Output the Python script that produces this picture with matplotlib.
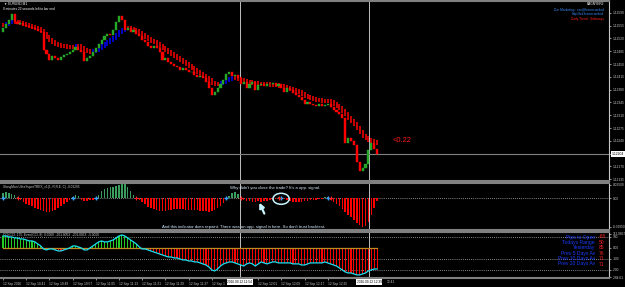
import matplotlib.pyplot as plt
from matplotlib.patches import Ellipse
import numpy as np

plt.rcParams['font.family'] = ['Liberation Sans', 'DejaVu Sans']

# ---- data (EURUSD M1, 12 Sep 2016) ----
closes = [1.12548, 1.12559, 1.12570, 1.12587, 1.12565, 1.12559, 1.12562, 1.12557, 1.12554, 1.12551,
          1.12548, 1.12546, 1.12540, 1.12537, 1.12488, 1.12477, 1.12461, 1.12472, 1.12466, 1.12461,
          1.12469, 1.12475, 1.12477, 1.12483, 1.12488, 1.12496, 1.12488, 1.12483, 1.12458, 1.12466,
          1.12472, 1.12483, 1.12494, 1.12505, 1.12516, 1.12527, 1.12532, 1.12529, 1.12543, 1.12565,
          1.12581, 1.12570, 1.12543, 1.12548, 1.12537, 1.12543, 1.12532, 1.12527, 1.12516, 1.12510,
          1.12499, 1.12494, 1.12499, 1.12494, 1.12483, 1.12461, 1.12466, 1.12455, 1.12450, 1.12445,
          1.12442, 1.12434, 1.12439, 1.12434, 1.12428, 1.12428, 1.12420, 1.12414, 1.12417, 1.12412,
          1.12401, 1.12384, 1.12365, 1.12373, 1.12384, 1.12395, 1.12406, 1.12423, 1.12428, 1.12417,
          1.12420, 1.12412, 1.12395, 1.12401, 1.12384, 1.12395, 1.12401, 1.12379, 1.12393, 1.12395,
          1.12390, 1.12395, 1.12395, 1.12398, 1.12390, 1.12395, 1.12384, 1.12373, 1.12384, 1.12379,
          1.12371, 1.12365, 1.12360, 1.12352, 1.12341, 1.12346, 1.12341, 1.12338, 1.12335, 1.12341,
          1.12335, 1.12338, 1.12341, 1.12332, 1.12324, 1.12319, 1.12313, 1.12302, 1.12234, 1.12248,
          1.12240, 1.12229, 1.12182, 1.12157, 1.12166, 1.12177, 1.12215, 1.12234, 1.12218, 1.12204]
first_open = 1.12537

# smoothed trend bars (red falling / blue rising)
trend = [1.12557, 1.12559, 1.12565, 1.12570, 1.12565, 1.12565, 1.12562, 1.12559, 1.12557, 1.12554,
         1.12551, 1.12548, 1.12546, 1.12540, 1.12532, 1.12524, 1.12516, 1.12510, 1.12505, 1.12502,
         1.12499, 1.12499, 1.12496, 1.12496, 1.12496, 1.12499, 1.12499, 1.12494, 1.12488, 1.12486,
         1.12483, 1.12486, 1.12488, 1.12494, 1.12499, 1.12505, 1.12510, 1.12516, 1.12521, 1.12529,
         1.12537, 1.12543, 1.12548, 1.12548, 1.12546, 1.12543, 1.12540, 1.12535, 1.12529, 1.12524,
         1.12518, 1.12513, 1.12510, 1.12505, 1.12499, 1.12494, 1.12488, 1.12483, 1.12477, 1.12472,
         1.12466, 1.12461, 1.12455, 1.12450, 1.12445, 1.12439, 1.12434, 1.12428, 1.12423, 1.12417,
         1.12412, 1.12406, 1.12398, 1.12395, 1.12395, 1.12398, 1.12401, 1.12406, 1.12409, 1.12412,
         1.12412, 1.12409, 1.12406, 1.12404, 1.12401, 1.12401, 1.12398, 1.12398, 1.12395, 1.12395,
         1.12395, 1.12395, 1.12393, 1.12393, 1.12393, 1.12390, 1.12390, 1.12387, 1.12384, 1.12382,
         1.12379, 1.12376, 1.12373, 1.12368, 1.12363, 1.12360, 1.12357, 1.12354, 1.12352, 1.12352,
         1.12349, 1.12349, 1.12349, 1.12346, 1.12341, 1.12335, 1.12330, 1.12322, 1.12313, 1.12302,
         1.12294, 1.12286, 1.12275, 1.12264, 1.12253, 1.12248, 1.12242, 1.12240, 1.12237, 1.12234]

trex = [0.005, 0.006, 0.005, 0.004, 0.003, 0.001, -0.002, -0.004, -0.006, -0.007,
        -0.008, -0.010, -0.011, -0.012, -0.013, -0.014, -0.014, -0.013, -0.012, -0.010,
        -0.008, -0.006, -0.004, -0.002, 0.001, 0.003, 0.002, -0.002, -0.003, -0.003,
        -0.002, -0.002, -0.001, 0.003, 0.007, 0.009, 0.010, 0.011, 0.011, 0.012,
        0.013, 0.015, 0.014, 0.011, 0.007, 0.003, 0.001, -0.002, -0.004, -0.006,
        -0.009, -0.010, -0.011, -0.012, -0.013, -0.013, -0.013, -0.012, -0.012, -0.011,
        -0.011, -0.011, -0.011, -0.012, -0.012, -0.012, -0.012, -0.012, -0.013, -0.013,
        -0.013, -0.014, -0.013, -0.012, -0.010, -0.008, -0.005, -0.002, 0.002, 0.005,
        0.006, 0.004, -0.001, -0.002, -0.003, -0.003, -0.004, -0.004, -0.003, -0.004,
        -0.003, -0.003, -0.002, -0.002, -0.001, 0.001, 0.001, -0.001, -0.002, -0.003,
        -0.004, -0.004, -0.004, -0.004, -0.003, -0.003, -0.002, -0.002, -0.002, -0.001,
        -0.001, 0.001, 0.001, -0.002, -0.004, -0.006, -0.008, -0.011, -0.014, -0.017,
        -0.019, -0.022, -0.025, -0.027, -0.029, -0.028, -0.024, -0.017, -0.010, -0.003]
buy_bars = [0, 24, 32, 77, 96, 112]
sell_bars = [5, 46, 82, 95, 113]

cci = [109, 109, 100, 100, 91, 91, 82, 82, 73, 64,
       64, 55, 36, 18, -9, -18, -9, -9, -18, -27,
       -27, -18, -9, 0, 18, 18, 9, 0, -18, -18,
       0, 18, 36, 55, 64, 55, 55, 64, 73, 91,
       109, 118, 109, 91, 73, 55, 36, 9, -9, -9,
       -18, -27, -36, -45, -55, -64, -73, -82, -82, -91,
       -91, -100, -109, -109, -118, -118, -127, -127, -136, -145,
       -155, -173, -200, -209, -191, -164, -145, -136, -127, -127,
       -136, -145, -155, -164, -145, -136, -145, -164, -145, -127,
       -136, -145, -136, -127, -127, -136, -136, -136, -136, -136,
       -145, -145, -145, -155, -155, -145, -136, -136, -136, -136,
       -136, -127, -136, -145, -155, -164, -182, -200, -218, -227,
       -227, -236, -245, -245, -236, -227, -209, -200, -191, -191]

price_ticks = [1.12590, 1.12555, 1.12520, 1.12485, 1.12450, 1.12415, 1.12380,
               1.12345, 1.12310, 1.12275, 1.12240, 1.12205, 1.12170, 1.12135]
# labels hidden under the crosshair boxes are left out, as on the screen
time_bars = [0, 8, 16, 24, 32, 40, 48, 56, 64, 72, 88, 96, 104, 112]
time_labels = ['12 Sep 2016', '12 Sep 10:41', '12 Sep 10:49', '12 Sep 10:57', '12 Sep 11:05',
               '12 Sep 11:13', '12 Sep 11:21', '12 Sep 11:29', '12 Sep 11:37', '12 Sep 1',
               '12 Sep 12:01', '12 Sep 12:09', '12 Sep 12:17', '12 Sep 12:25']
cross_bars = [81.7, 126.2]
cross_labels = ['2016.09.12 11:54', '2016.09.12 12:39']
last_price = 1.12204

stat_names = ['Pips to Open', 'Todays Range', 'Yesterday', 'Prev 5 Days Av', 'Prev 10 Days Av', 'Prev 20 Days Av']
stat_values = ['-65', '50', '85', '76', '71', '71']

# ---- figure ----
W, H = 625, 287
fig = plt.figure(figsize=(W / 100, H / 100), dpi=100, facecolor='black')


def box(top, bottom):
    return [0, 1 - bottom / H, 609 / W, (bottom - top) / H]


ax1 = fig.add_axes(box(0.5, 181))
ax2 = fig.add_axes(box(183, 229.5))
ax3 = fig.add_axes(box(232, 278))

x = np.arange(len(closes))
xlim = (-3 / 2.9, 606 / 2.9)
grey = '#808080'
txt = '#c8c8c8'

for ax in (ax1, ax2, ax3):
    ax.set_facecolor('black')
    ax.set_xlim(*xlim)
    for s in ('top', 'bottom'):
        ax.spines[s].set_color(grey)
        ax.spines[s].set_linewidth(1.5)
    ax.spines['left'].set_visible(False)
    ax.spines['right'].set_color(txt)
    ax.spines['right'].set_linewidth(0.8)
    ax.yaxis.tick_right()
    ax.tick_params(axis='y', colors=txt, labelsize=2.3, length=1.5, width=0.5, pad=1)
    for b in cross_bars:
        ax.axvline(b, color='#c0c0c0', lw=0.7, zorder=1)

# main chart
opens = [first_open] + closes[:-1]
bull = [c >= o for o, c in zip(opens, closes)]
tcol = ['#0000ff' if i > 0 and trend[i] > trend[i - 1] else '#ff0000' for i in range(len(trend))]
tprev = [trend[0]] + trend[:-1]
tlo = [min(a, b) - 0.00006 for a, b in zip(tprev, trend)]
thi = [max(a, b) + 0.00006 for a, b in zip(tprev, trend)]
ax1.vlines(x, tlo, thi, colors=tcol, lw=1.1, zorder=2)
ccol = ['#26a626' if b else '#ff0000' for b in bull]
ax1.bar(x, np.array(closes) - np.array(opens), bottom=opens, width=0.7,
        color=ccol, edgecolor=ccol, lw=0.3, zorder=3)
ax1.set_ylim(1.12130, 1.12624)
ax1.set_yticks(price_ticks)
ax1.set_yticklabels([f'{p:.5f}' for p in price_ticks])
ax1.set_xticks([])
ax1.axhline(last_price, color=grey, lw=0.8, zorder=1)
ax1.text(1.004, last_price, f'{last_price:.5f}', transform=ax1.get_yaxis_transform(),
         fontsize=2.4, color='black', va='center', ha='left',
         bbox=dict(facecolor='white', edgecolor='none', pad=0.6), zorder=5)
ax1.text(134.5, 1.12240, '<0.22', color='#ff1a1a', fontsize=5.4, va='center', ha='left')

# trex histogram panel
ax2.bar(x, trex, width=0.55, color=['#3a9d5d' if v > 0 else '#ff0000' for v in trex], zorder=2)
ax2.axhline(0, color='white', ls=(0, (1, 2)), lw=0.5, zorder=1)
ax2.plot(buy_bars, [0] * len(buy_bars), '+', color='#3aa0ff', ms=3, mew=1, zorder=4)
ax2.plot(sell_bars, [0] * len(sell_bars), '+', color='#ff2020', ms=2.5, mew=0.8, zorder=4)
ax2.set_ylim(-0.0312, 0.0153)
ax2.set_yticks([0.0135, 0, -0.0287])
ax2.set_yticklabels(['0.01500', '0.00', '-0.02950'])
ax2.set_xticks([])
ax2.text(78.3, 0.0103, "Why didn't you close the trade? It's a opp. signal.",
         color='#d8ecff', fontsize=3.1, va='center')
ax2.text(54.8, -0.0285, "And this indicator does repaint. There was an opp. signal in here. So don't trust backtest.",
         color='#d8ecff', fontsize=3.1, va='center')
ax2.annotate('', xy=(88.0, -0.0018), xytext=(90.5, -0.0178),
             arrowprops=dict(arrowstyle='-|>', color='#c8f4ff', lw=1.6, mutation_scale=7))
ax2.add_patch(Ellipse((95.9, -0.0005), 5.6, 0.011, fill=False, ec='#c8f4ff', lw=1.1, zorder=5))
ax2.text(0.005, 0.96, 'SlongMan UltraSuperTREX_v1(1, R,R,E, C) -0.01295', transform=ax2.transAxes,
         color=txt, fontsize=2.3, va='top')

# CCI panel
ax3.bar(x, cci, width=0.35, color=['#22cc22' if v > 0 else '#ff0000' for v in cci], zorder=2)
ax3.plot(x, [0] * len(x), color='#c08a20', lw=0.9, zorder=3)
ax3.plot(x, cci, color='#19e0f0', lw=0.9, zorder=4)
for lvl in (100, -100, -200):
    ax3.axhline(lvl, color='white', ls=(0, (1, 2)), lw=0.5, zorder=1)
ax3.set_ylim(-273, 145)
ax3.set_yticks([127, 100, 0, -100, -200, -264])
ax3.set_yticklabels(['112.0857', '100', '0.00', '-100', '-200', '-284.61'])
ax3.set_xticks(time_bars)
ax3.set_xticklabels(time_labels, ha='left')
ax3.tick_params(axis='x', colors=txt, labelsize=2.3, length=1.5, width=0.5, pad=1.2)
ax3.text(132.4, -0.09, '12:41', transform=ax3.get_xaxis_transform(), fontsize=2.3, color=txt,
         ha='left', va='center')
ax3.text(0.005, 0.97, 'CCI(CCI, 175, Even(CCI, 8)  0.0000  -201.0053  -201.0053  -5.0000',
         transform=ax3.transAxes, color=txt, fontsize=2.3, va='top')
for b, lab in zip(cross_bars, cross_labels):
    ax3.text(b, -0.09, lab, transform=ax3.get_xaxis_transform(), fontsize=2.3, color='black',
             ha='center', va='center', bbox=dict(facecolor='white', edgecolor='none', pad=0.5), zorder=6)

# stats block
for k, (name, val) in enumerate(zip(stat_names, stat_values)):
    yy = 237 + 5.4 * k
    fig.text(595 / W, 1 - yy / H, name, color='#1a3cff', fontsize=3.6, ha='right', va='center')
    fig.text(599 / W, 1 - yy / H, val, color='#ff2020', fontsize=3.6, ha='left', va='center')

# header texts
fig.text(4 / W, 1 - 3.5 / H, '\u25bc EURUSD,M1', color='white', fontsize=2.3, va='center')
fig.text(3 / W, 1 - 8.5 / H, '0 minutes 22 seconds left to bar end', color='white', fontsize=2.3, va='center')
fig.text(604 / W, 1 - 4 / H, 'EAGNYER2', color='white', fontsize=2.3, ha='right', va='center')
fig.text(604 / W, 1 - 10 / H, 'Der Marketing : xxx@fxsnm.web.id', color='#3a8cff', fontsize=2.3, ha='right', va='center')
fig.text(604 / W, 1 - 14.5 / H, 'http://fxd.fxsnm.web.id', color='#3a8cff', fontsize=2.3, ha='right', va='center')
fig.text(604 / W, 1 - 19 / H, 'Daily Trend : Sideways', color='#ff2020', fontsize=2.3, ha='right', va='center')

fig.savefig('out.png', dpi=100, facecolor='black')
